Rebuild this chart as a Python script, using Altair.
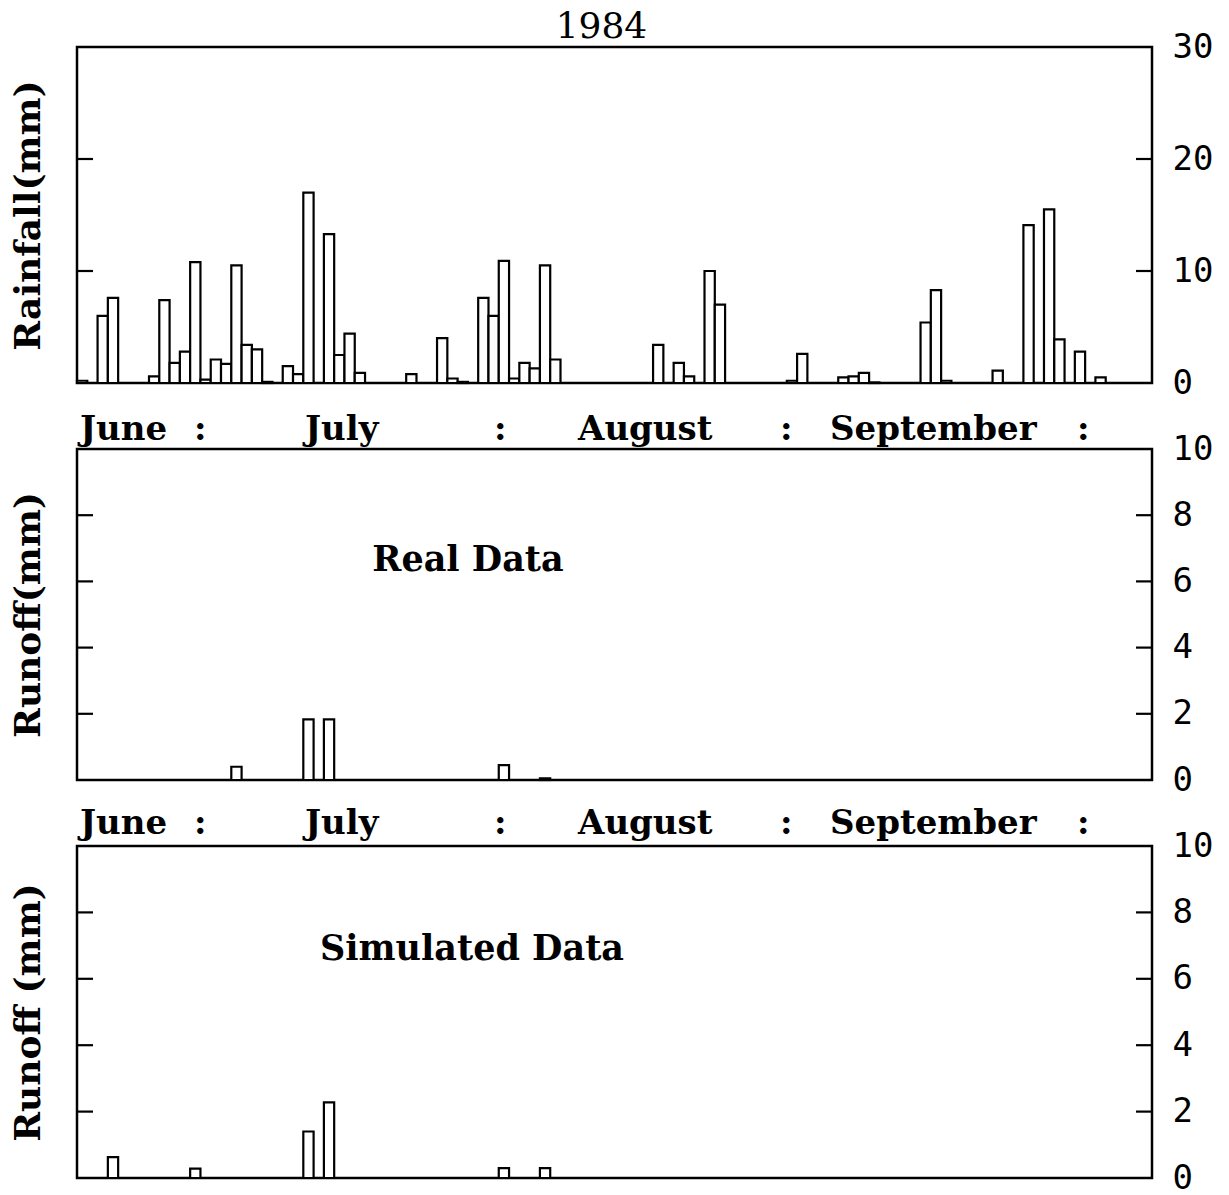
import altair as alt
import pandas as pd

# Daily rainfall, 1984 season (day index counted from the first day of the record)
rain_days = [0, 2, 3, 7, 8, 9, 10, 11, 12, 13, 14, 15, 16, 17, 18, 20, 21, 22, 24, 25,
             26, 27, 32, 35, 36, 37, 39, 40, 41, 42, 43, 44, 45, 46, 56, 58, 59, 61, 62, 69,
             70, 74, 75, 76, 77, 82, 83, 84, 89, 92, 94, 95, 97, 99]
rain_mm = [0.2, 6.0, 7.6, 0.6, 7.4, 1.8, 2.8, 10.8, 0.3, 2.1, 1.7, 10.5, 3.4, 3.0, 0.1, 1.5, 0.8, 17.0, 13.3, 2.5,
           4.4, 0.9, 0.8, 4.0, 0.4, 0.1, 7.6, 6.0, 10.9, 0.4, 1.8, 1.3, 10.5, 2.1, 3.4, 1.8, 0.6, 10.0, 7.0, 0.2,
           2.6, 0.5, 0.6, 0.9, 0.05, 5.4, 8.3, 0.2, 1.1, 14.1, 15.5, 3.9, 2.8, 0.5]

# Measured runoff
real_days = [15, 22, 24, 41, 45]
real_mm = [0.4, 1.83, 1.83, 0.45, 0.05]

# Simulated runoff
sim_days = [3, 11, 22, 24, 41, 45]
sim_mm = [0.63, 0.28, 1.4, 2.28, 0.3, 0.3]

rain_ticks = [0, 10, 20, 30]
runoff_ticks = [0, 2, 4, 6, 8, 10]

# Month strip printed under the rainfall and measured-runoff panels
month_row = ["June", ":", "July", ":", "August", ":", "September", ":"]

# Layout constants (pixels within a panel)
W = 1075
DAY_SPAN = 104.5
MONTH_ROW_OFFSETS = [3, 117, 228, 417, 501, 703, 753, 1000]
SERIF = "DejaVu Serif"
NUM = "DejaVu Sans Mono"


def panel(days, values, ticks, y_max, height, y_title, month_gap=None, note=None, note_xy=None):
    df = pd.DataFrame({"day": days, "mm": values})
    x_scale = alt.Scale(domain=[0, DAY_SPAN], nice=False, zero=False)
    y_scale = alt.Scale(domain=[0, y_max], nice=False, zero=True)

    bars = (
        alt.Chart(df)
        .transform_calculate(day_end="datum.day + 1")
        .mark_bar(fill="white", stroke="black", strokeWidth=2.2)
        .encode(
            x=alt.X("day:Q", scale=x_scale, axis=None),
            x2="day_end:Q",
            y=alt.Y("mm:Q", scale=y_scale,
                    axis=alt.Axis(orient="right", values=ticks, title=None, ticks=False,
                                  domain=False, grid=False, labelFont=NUM, labelFontSize=34,
                                  labelPadding=20, labelColor="black")),
            y2=alt.datum(0),
        )
    )

    tick_df = pd.DataFrame({"v": [t for t in ticks if 0 < t < y_max]})
    left_ticks = (
        alt.Chart(tick_df)
        .mark_rule(color="black", strokeWidth=2.2)
        .encode(
            y=alt.Y("v:Q", scale=y_scale,
                    axis=alt.Axis(orient="left", title=y_title, labels=False, ticks=False,
                                  domain=False, grid=False, titleFont=SERIF, titleFontSize=36,
                                  titleFontWeight="bold", titleColor="black", titlePadding=30)),
            x=alt.value(0),
            x2=alt.value(16),
        )
    )
    right_ticks = (
        alt.Chart(tick_df)
        .mark_rule(color="black", strokeWidth=2.2)
        .encode(
            y=alt.Y("v:Q", scale=y_scale, axis=None),
            x=alt.value(W - 16),
            x2=alt.value(W),
        )
    )
    layers = [bars, left_ticks, right_ticks]

    if month_gap is not None:
        for label, off in zip(month_row, MONTH_ROW_OFFSETS):
            layers.append(
                alt.Chart(pd.DataFrame({"label": [label]}))
                .mark_text(font=SERIF, fontSize=34, fontWeight="bold", color="black",
                           align="left", baseline="alphabetic")
                .encode(text="label:N", x=alt.value(off), y=alt.value(height + month_gap))
            )

    if note:
        layers.append(
            alt.Chart(pd.DataFrame({"label": [note]}))
            .mark_text(font=SERIF, fontSize=35, fontWeight="bold", color="black",
                       align="center", baseline="middle")
            .encode(text="label:N", x=alt.value(note_xy[0]), y=alt.value(note_xy[1]))
        )

    return (
        alt.layer(*layers)
        .resolve_axis(y="independent")
        .properties(width=W, height=height)
    )


top = panel(rain_days, rain_mm, rain_ticks, 30, 336, "Rainfall(mm)", month_gap=57)
mid = panel(real_days, real_mm, runoff_ticks, 10, 331, "Runoff(mm)", month_gap=54,
            note="Real Data", note_xy=(391, 111))
bot = panel(sim_days, sim_mm, runoff_ticks, 10, 332, "Runoff (mm)",
            note="Simulated Data", note_xy=(395, 103))

chart = (
    alt.vconcat(top, mid, bot, spacing=66, bounds="flush")
    .properties(
        title=alt.Title("1984", font=SERIF, fontSize=36, fontWeight="normal",
                        color="black", anchor="middle", offset=-17, dx=-10),
        padding={"left": 8, "top": 8, "right": 5, "bottom": 5},
        background="white",
    )
    .configure_view(stroke="black", strokeWidth=2.5)
)

chart.save("out.html", embed_options={"renderer": "svg", "actions": False})
